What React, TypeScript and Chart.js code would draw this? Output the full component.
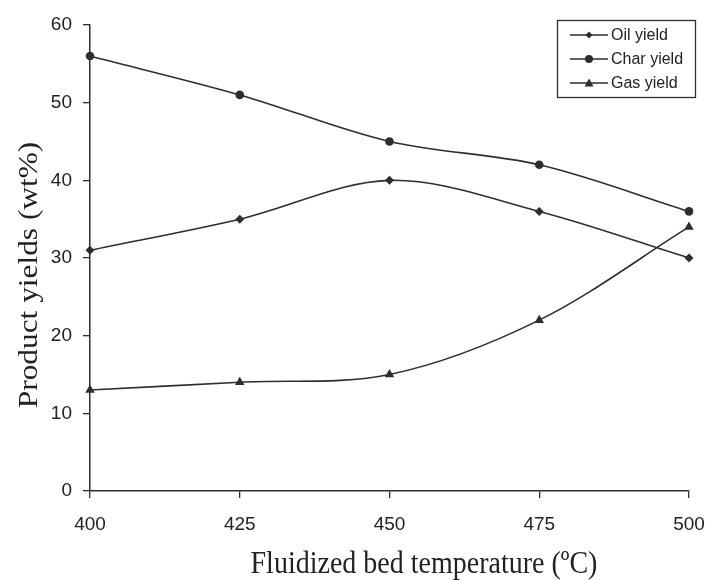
import React, { useEffect, useRef } from "react";
import { Chart, registerables } from "chart.js";

Chart.register(...registerables);

const temperatures = [400, 425, 450, 475, 500];
const oilYield = [31, 35, 40, 36, 30];
const charYield = [56, 51, 45, 42, 36];
const gasYield = [13, 14, 15, 22, 34];

const seriesNames = ["Oil yield", "Char yield", "Gas yield"];
const xTitle = "Fluidized bed temperature (ºC)";
const yTitle = "Product yields (wt%)";

const INK = "#2e2e2e";
const SANS = "'Liberation Sans', Arial, sans-serif";
const SERIF = "'Liberation Serif', 'Times New Roman', serif";

const legendPlugin = {
  id: "boxLegend",
  afterDraw(chart: any) {
    const ctx = chart.ctx;
    const x0 = 557, y0 = 20, x1 = 695, y1 = 97;
    ctx.save();
    ctx.strokeStyle = INK;
    ctx.lineWidth = 1.3;
    ctx.strokeRect(x0 + 0.5, y0 + 0.5, x1 - x0, y1 - y0);
    const rows = [35, 59, 83];
    chart.data.datasets.forEach((ds: any, i: number) => {
      const y = rows[i];
      ctx.strokeStyle = INK;
      ctx.lineWidth = 1.5;
      ctx.beginPath();
      ctx.moveTo(570, y);
      ctx.lineTo(608, y);
      ctx.stroke();
      ctx.fillStyle = INK;
      ctx.beginPath();
      const cx = 589;
      if (ds.pointStyle === "rectRot") {
        const r = 3.5;
        ctx.moveTo(cx, y - r);
        ctx.lineTo(cx + r, y);
        ctx.lineTo(cx, y + r);
        ctx.lineTo(cx - r, y);
        ctx.closePath();
      } else if (ds.pointStyle === "circle") {
        ctx.arc(cx, y, 4, 0, Math.PI * 2);
      } else {
        const r = 4.5;
        ctx.moveTo(cx, y - r);
        ctx.lineTo(cx + r, y + r * 0.8);
        ctx.lineTo(cx - r, y + r * 0.8);
        ctx.closePath();
      }
      ctx.fill();
      ctx.fillStyle = "#222";
      ctx.font = `16px ${SANS}`;
      ctx.textBaseline = "middle";
      ctx.textAlign = "left";
      ctx.fillText(ds.label, 611, y + 1);
    });
    ctx.restore();
  },
};

// Axis titles drawn with the slight vertical stretch seen in the scanned original
const titlePlugin = {
  id: "axisTitles",
  afterDraw(chart: any) {
    const ctx = chart.ctx;
    ctx.save();
    ctx.fillStyle = "#222";
    ctx.font = `28px ${SERIF}`;
    ctx.textAlign = "center";
    ctx.textBaseline = "alphabetic";
    // x title
    ctx.save();
    ctx.translate(424, 573);
    ctx.scale(1, 1.14);
    ctx.fillText(xTitle, 0, 0);
    ctx.restore();
    // y title
    ctx.save();
    ctx.translate(37, 275);
    ctx.rotate(-Math.PI / 2);
    ctx.scale(1.12, 1);
    ctx.fillText(yTitle, 0, 0);
    ctx.restore();
    ctx.restore();
  },
};

export default function App() {
  const ref = useRef<HTMLCanvasElement | null>(null);
  useEffect(() => {
    if (!ref.current) return;
    const mk = (label: string, values: number[], style: string, r: number) => ({
      label,
      data: temperatures.map((t, i) => ({ x: t, y: values[i] })),
      borderColor: INK,
      backgroundColor: INK,
      pointBackgroundColor: INK,
      pointBorderColor: INK,
      pointStyle: style,
      pointRadius: r,
      pointBorderWidth: 0,
      borderWidth: 1.6,
      tension: 0.33,
      clip: false,
    });
    const chart = new Chart(ref.current, {
      type: "line",
      data: {
        datasets: [
          mk(seriesNames[0], oilYield, "rectRot", 4.5),
          mk(seriesNames[1], charYield, "circle", 4.3),
          mk(seriesNames[2], gasYield, "triangle", 5.5),
        ] as any,
      },
      options: {
        animation: false,
        responsive: false,
        layout: { padding: { top: 25, right: 18, left: 0, bottom: 0 } },
        plugins: { legend: { display: false }, tooltip: { enabled: false } },
        scales: {
          x: {
            type: "linear",
            min: 400,
            max: 500,
            afterFit: (s: any) => {
              s.height = 89;
              s.paddingLeft = 0;
              s.paddingRight = 0;
            },
            ticks: { stepSize: 25, padding: 15, color: "#222", font: { family: SANS, size: 19 } },
            grid: { drawOnChartArea: false, drawTicks: true, tickLength: 7, color: INK, lineWidth: 1.3 },
            border: { display: true, color: INK, width: 1.5 },
            title: { display: false },
          },
          y: {
            min: 0,
            max: 60,
            afterFit: (s: any) => {
              s.width = 90;
              s.paddingTop = 0;
              s.paddingBottom = 0;
            },
            ticks: { stepSize: 10, padding: 11, color: "#222", font: { family: SANS, size: 19 } },
            grid: { drawOnChartArea: false, drawTicks: true, tickLength: 7, color: INK, lineWidth: 1.3 },
            border: { display: true, color: INK, width: 1.5 },
            title: { display: false },
          },
        },
      },
      plugins: [legendPlugin, titlePlugin],
    });
    return () => chart.destroy();
  }, []);
  return (
    <div style={{ position: "fixed", left: 0, top: 0, width: 707, height: 580, background: "#fff" }}>
      <canvas ref={ref} width={707} height={580} style={{ display: "block" }} />
    </div>
  );
}
